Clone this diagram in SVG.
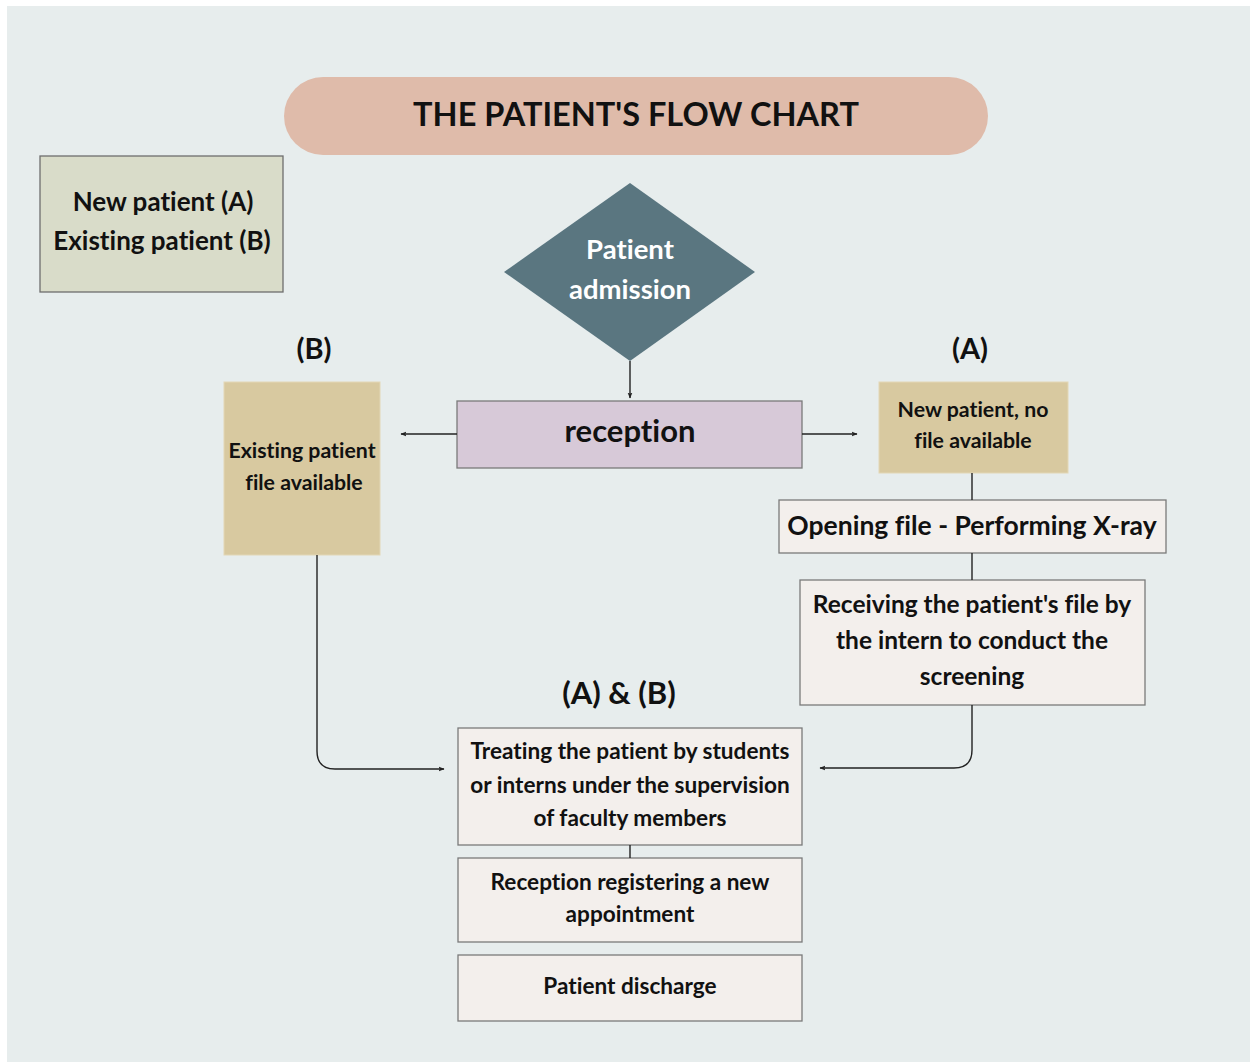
<svg xmlns="http://www.w3.org/2000/svg" width="1250" height="1062" viewBox="0 0 1250 1062">
  <style>
    text { font-family: Lato, "Open Sans", "Liberation Sans", sans-serif; font-weight: bold; fill: #111; text-anchor: middle; font-variant-ligatures: none; }
    .box { fill: #f3efec; stroke: #7a7a7a; stroke-width: 1.3; }
    .tan { fill: #d8c9a0; stroke: #e3d7b6; stroke-width: 1; }
    .conn { fill: none; stroke: #222; stroke-width: 1.4; }
    .lab { font-size: 29px; }
    .t21 { font-size: 21.3px; }
    .t24 { font-size: 24.5px; }
    .t22 { font-size: 22.6px; }
  </style>
  <defs>
    <marker id="arrow" viewBox="0 0 10 10" refX="9" refY="5" markerWidth="6" markerHeight="6" markerUnits="userSpaceOnUse" orient="auto">
      <path d="M0,1 L10,5 L0,9 L2,5 Z" fill="#222"/>
    </marker>
  </defs>

  <!-- background panel -->
  <rect x="0" y="0" width="1250" height="1062" fill="#ffffff"/>
  <rect x="7" y="6" width="1243" height="1056" fill="#e7eded"/>

  <g id="title">
    <rect x="284" y="77" width="704" height="78" rx="39" fill="#dfbbaa"/>
    <text x="636" y="126" style="font-size:32.5px">THE PATIENT'S FLOW CHART</text>
  </g>

  <g id="legend">
    <rect x="40" y="156" width="243" height="136" fill="#d9dcc9" stroke="#6e6e6e" stroke-width="1.3"/>
    <text x="163" y="211" style="font-size:26px">New patient (A)</text>
    <text x="162" y="250" style="font-size:26px">Existing patient (B)</text>
  </g>

  <g id="admission">
    <polygon points="630,183 755,272 630,361 504,272" fill="#5a7680"/>
    <text x="630" y="259" style="font-size:27.5px;fill:#ffffff">Patient</text>
    <text x="630" y="299" style="font-size:27.5px;fill:#ffffff">admission</text>
  </g>

  <g id="reception">
    <rect x="457" y="401" width="345" height="67" fill="#d7c9d8" stroke="#7a7a7a" stroke-width="1.3"/>
    <text x="630" y="442" style="font-size:31px">reception</text>
  </g>

  <g id="label-b">
    <text x="314" y="359" class="lab">(B)</text>
  </g>
  <g id="label-a">
    <text x="970" y="359" class="lab">(A)</text>
  </g>
  <g id="label-ab">
    <text x="619" y="704" style="font-size:31px">(A) &amp; (B)</text>
  </g>

  <g id="existing">
    <rect x="224" y="382" width="156" height="173" class="tan"/>
    <text x="302" y="458" class="t21">Existing patient</text>
    <text x="304" y="490" class="t21">file available</text>
  </g>

  <g id="new">
    <rect x="879" y="382" width="189" height="91" class="tan"/>
    <text x="973" y="417" class="t21">New patient, no</text>
    <text x="973" y="448" class="t21">file available</text>
  </g>

  <g id="opening">
    <rect x="779" y="500" width="387" height="53" class="box"/>
    <text x="972" y="535" style="font-size:26.5px">Opening file - Performing X-ray</text>
  </g>

  <g id="receiving">
    <rect x="800" y="580" width="345" height="125" class="box"/>
    <text x="972" y="613" class="t24">Receiving the patient's file by</text>
    <text x="972" y="649" class="t24">the intern to conduct the</text>
    <text x="972" y="685" class="t24">screening</text>
  </g>

  <g id="treating">
    <rect x="458" y="728" width="344" height="117" class="box"/>
    <text x="630" y="759" class="t22">Treating the patient by students</text>
    <text x="630" y="793" class="t22">or interns under the supervision</text>
    <text x="630" y="826" class="t22">of faculty members</text>
  </g>

  <g id="appointment">
    <rect x="458" y="858" width="344" height="84" class="box"/>
    <text x="630" y="890" class="t22">Reception registering a new</text>
    <text x="630" y="922" class="t22">appointment</text>
  </g>

  <g id="discharge">
    <rect x="458" y="955" width="344" height="66" class="box"/>
    <text x="630" y="994" class="t22">Patient discharge</text>
  </g>

  <g id="connectors">
    <path class="conn" d="M630,361 L630,398" marker-end="url(#arrow)"/>
    <path class="conn" d="M457,434 L401,434" marker-end="url(#arrow)"/>
    <path class="conn" d="M802,434 L857,434" marker-end="url(#arrow)"/>
    <path class="conn" d="M972,473 L972,500"/>
    <path class="conn" d="M972,553 L972,580"/>
    <path class="conn" d="M972,705 L972,750 Q972,768 954,768 L820,768" marker-end="url(#arrow)"/>
    <path class="conn" d="M317,555 L317,751 Q317,769 335,769 L444,769" marker-end="url(#arrow)"/>
    <path class="conn" d="M630,845 L630,858"/>
  </g>
</svg>
